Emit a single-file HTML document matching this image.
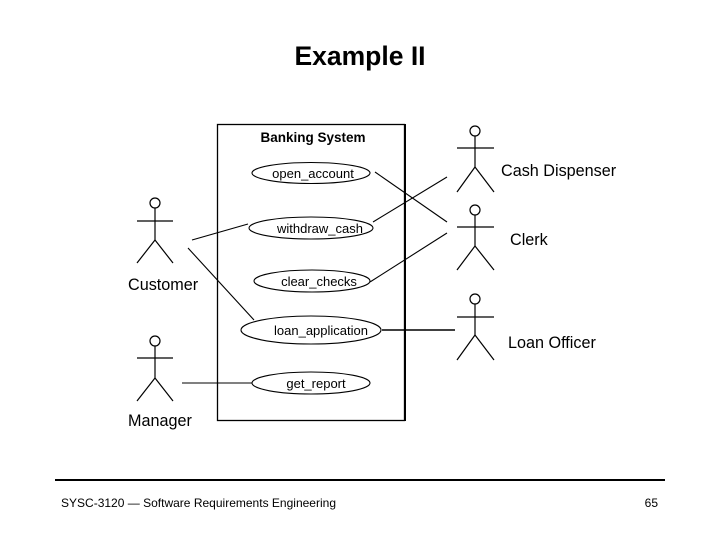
<!DOCTYPE html>
<html><head><meta charset="utf-8"><style>
html,body{margin:0;padding:0;background:#fff;}
svg{display:block;}
text{font-family:"Liberation Sans",sans-serif;fill:#000;}
</style></head><body>
<svg width="720" height="540" viewBox="0 0 720 540" xmlns="http://www.w3.org/2000/svg">
<text x="360" y="65" text-anchor="middle" font-size="26.5" font-weight="bold">Example II</text>
<rect x="217.5" y="124.5" width="187" height="296" fill="none" stroke="#000" stroke-width="1.3"/>
<line x1="405" y1="124" x2="405" y2="421" stroke="#000" stroke-width="2"/>
<text x="313" y="142" text-anchor="middle" font-size="13.5" font-weight="bold" fill="#222">Banking System</text>
<g fill="none" stroke="#000" stroke-width="1.1">
<ellipse cx="311" cy="173" rx="59" ry="10.5"/>
<ellipse cx="311" cy="228" rx="62" ry="11"/>
<ellipse cx="312" cy="281" rx="58" ry="11"/>
<ellipse cx="311" cy="330" rx="70" ry="14"/>
<ellipse cx="311" cy="383" rx="59" ry="11"/>
<line x1="192" y1="240" x2="248" y2="224"/>
<line x1="188" y1="248" x2="254" y2="320"/>
<line x1="375" y1="172" x2="447" y2="222"/>
<line x1="373" y1="222" x2="447" y2="177"/>
<line x1="370" y1="282" x2="447" y2="233"/>
<line x1="382" y1="330" x2="455" y2="330" stroke-width="1.6"/>
<line x1="182" y1="383" x2="252" y2="383"/>
</g>
<g font-size="13" text-anchor="middle">
<text x="313" y="178">open_account</text>
<text x="320" y="233">withdraw_cash</text>
<text x="319" y="286">clear_checks</text>
<text x="321" y="335">loan_application</text>
<text x="316" y="388">get_report</text>
</g>
<g fill="none" stroke="#000" stroke-width="1.2">
<circle cx="155" cy="203" r="5"/><line x1="155" y1="208" x2="155" y2="240"/><line x1="137" y1="221" x2="173" y2="221"/><line x1="155" y1="240" x2="137" y2="263"/><line x1="155" y1="240" x2="173" y2="263"/>
<circle cx="155" cy="341" r="5"/><line x1="155" y1="346" x2="155" y2="378"/><line x1="137" y1="358" x2="173" y2="358"/><line x1="155" y1="378" x2="137" y2="401"/><line x1="155" y1="378" x2="173" y2="401"/>
<circle cx="475" cy="131" r="5"/><line x1="475" y1="136" x2="475" y2="167"/><line x1="457" y1="148" x2="494" y2="148"/><line x1="475" y1="167" x2="457" y2="192"/><line x1="475" y1="167" x2="494" y2="192"/>
<circle cx="475" cy="210" r="5"/><line x1="475" y1="215" x2="475" y2="246"/><line x1="457" y1="227" x2="494" y2="227"/><line x1="475" y1="246" x2="457" y2="270"/><line x1="475" y1="246" x2="494" y2="270"/>
<circle cx="475" cy="299" r="5"/><line x1="475" y1="304" x2="475" y2="335"/><line x1="457" y1="317" x2="494" y2="317"/><line x1="475" y1="335" x2="457" y2="360"/><line x1="475" y1="335" x2="494" y2="360"/>
</g>
<g font-size="16.2" fill="#222">
<text x="128" y="290">Customer</text>
<text x="128" y="426">Manager</text>
<text x="501" y="176">Cash Dispenser</text>
<text x="510" y="245">Clerk</text>
<text x="508" y="348">Loan Officer</text>
</g>
<line x1="55" y1="480" x2="665" y2="480" stroke="#000" stroke-width="2"/>
<text x="61" y="507" font-size="12" textLength="275" lengthAdjust="spacingAndGlyphs">SYSC-3120 — Software Requirements Engineering</text>
<text x="658" y="507" font-size="12" text-anchor="end">65</text>
</svg>
</body></html>
